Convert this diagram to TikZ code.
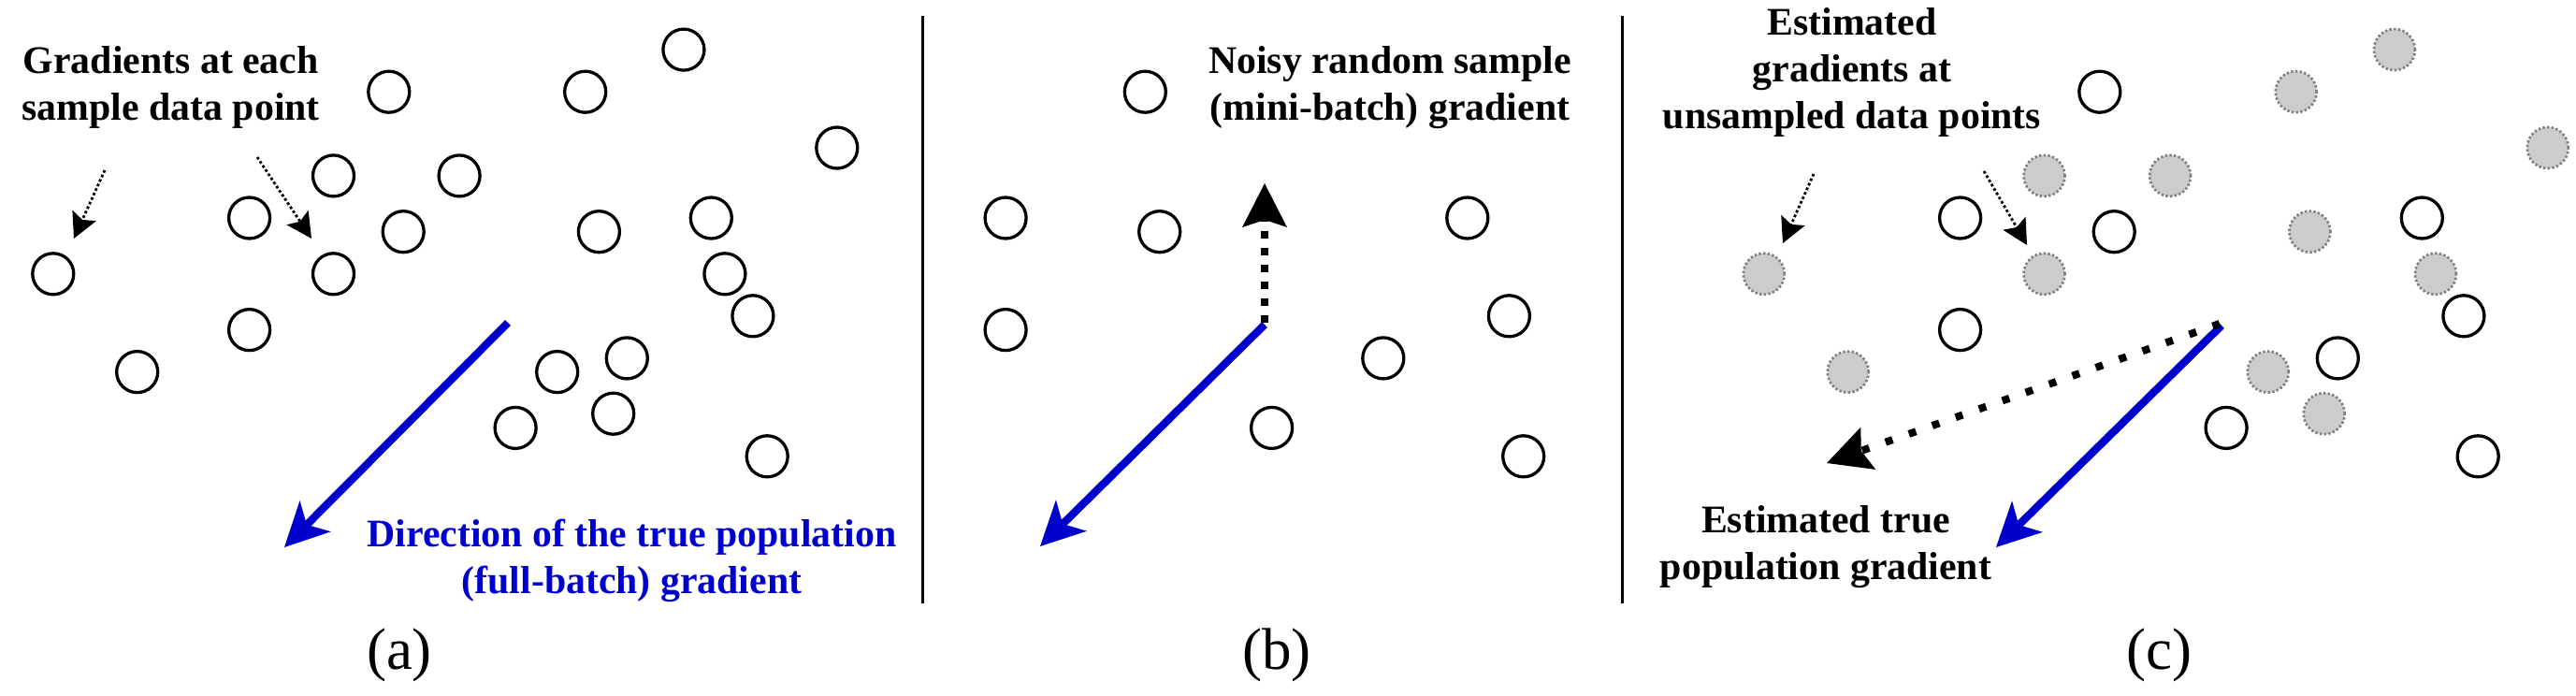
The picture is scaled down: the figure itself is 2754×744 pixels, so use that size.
\documentclass[tikz,border=0pt]{standalone}
\usepackage{fontspec}
\setmainfont{Liberation Serif}
\usetikzlibrary{arrows.meta}
\definecolor{gblue}{HTML}{0000CC}
\definecolor{efill}{HTML}{CCCCCC}
\definecolor{eline}{HTML}{808080}
\def\samplelist{3/266.6/233.0, 4/266.6/352.6, 7/415.8/98.2, 8/431.2/247.7, 11/551.1/457.4, 14/670.3/382.9, 17/760.3/233.0, 19/804.9/337.8, 20/820.2/487.8}
\def\unsamplelist{1/56.8/292.8, 2/146.7/397.6, 5/356.5/187.9, 6/356.5/292.8, 9/491.1/187.9, 10/595.7/397.6, 12/625.7/98.2, 13/640.4/247.7, 15/655.7/442.2, 16/730.9/53.1, 18/774.9/292.8, 21/894.8/158.0}
\begin{document}
\begin{tikzpicture}[x=1pt,y=-1pt,
  dp/.style={circle,draw=black,line width=3.3pt,minimum size=44pt,inner sep=0pt},
  ep/.style={circle,fill=efill,draw=eline,line width=2.7pt,dash pattern=on 2.4pt off 2.3pt,minimum size=44pt,inner sep=0pt},
  sepline/.style={line width=3.3pt},
  lbl/.style={font=\fontsize{41.8}{50}\selectfont\bfseries,align=center,anchor=base,inner sep=0pt},
  captxt/.style={font=\fontsize{63}{70}\selectfont,anchor=base,inner sep=0pt},
  ptr/.style={line width=2.8pt,dash pattern=on 2.8pt off 2.5pt,-{Stealth[length=27pt,width=28pt,inset=5pt,line width=0pt]}},
  truegrad/.style={draw=gblue,line width=8.3pt,-{Stealth[length=47pt,width=47pt,inset=13pt,line width=0pt,fill=gblue]}},
  noisygrad/.style={line width=8pt,-{Stealth[length=47pt,width=48pt,inset=8pt,line width=0pt]}},
]
\useasboundingbox (0,0) rectangle (2754,744);

% panel (a): all data points
\foreach \i/\x/\y in \samplelist {\node[dp] (a\i) at (\x,\y) {};}
\foreach \i/\x/\y in \unsamplelist {\node[dp] (a\i) at (\x,\y) {};}
% panel (b): sampled points
\foreach \i/\x/\y in \samplelist {\node[dp] (b\i) at (\x+808.5,\y) {};}
% panel (c): sampled + estimated points
\foreach \i/\x/\y in \samplelist {\node[dp] (c\i) at (\x+1829,\y) {};}
\foreach \i/\x/\y in \unsamplelist {\node[ep] (c\i) at (\x+1829,\y) {};}

% separators
\coordinate (s1t) at (986.5,16.6);
\coordinate (s1b) at (986.5,645);
\coordinate (s2t) at (1734.6,16.6);
\coordinate (s2b) at (1734.6,645);
\draw[sepline] (s1t) -- (s1b);
\draw[sepline] (s2t) -- (s2b);

% panel (a) arrows
\coordinate (ap1s) at (112,182);
\coordinate (ap1e) at (79,255);
\coordinate (ap2s) at (275,168);
\coordinate (ap2e) at (333,255);
\draw[ptr] (ap1s) -- (ap1e);
\draw[ptr] (ap2s) -- (ap2e);
\coordinate (abs) at (543,345);
\coordinate (abe) at (304,585);
\draw[truegrad] (abs) -- (abe);

% panel (b) arrows
\coordinate (bbs) at (1352,347);
\coordinate (bbe) at (1112,584);
\draw[truegrad] (bbs) -- (bbe);
\coordinate (bns) at (1352,345);
\coordinate (bne) at (1352,196);
\draw[noisygrad,dash pattern=on 8pt off 10pt] (bns) -- (bne);

% panel (c) arrows
\coordinate (cp1s) at (1939,186);
\coordinate (cp1e) at (1906,260);
\coordinate (cp2s) at (2121,183);
\coordinate (cp2e) at (2167,262);
\draw[ptr] (cp1s) -- (cp1e);
\draw[ptr] (cp2s) -- (cp2e);
\coordinate (cbs) at (2375,348);
\coordinate (cbe) at (2134,585);
\draw[truegrad] (cbs) -- (cbe);
\coordinate (cns) at (2373,346);
\coordinate (cne) at (1953,495);
\draw[noisygrad,dash pattern=on 8pt off 18.5pt] (cns) -- (cne);

% texts (anchor=base refers to the last line)
\node[lbl] (tA) at (182.8,128.3) {Gradients at each\\sample data point};
\node[lbl,text=gblue] (tDir) at (675.5,634) {Direction of the true population\\(full-batch) gradient};
\node[lbl] (tB) at (1486,128.3) {Noisy random sample\\(mini-batch) gradient};
\node[lbl] (tC1) at (1980,137) {Estimated\\gradients at\\unsampled data points};
\node[lbl] (tC2) at (1952,619) {Estimated true\\population gradient};
\node[captxt] (capA) at (427,715) {(a)};
\node[captxt] (capB) at (1365,715) {(b)};
\node[captxt] (capC) at (2308,715) {(c)};
\end{tikzpicture}
\end{document}
